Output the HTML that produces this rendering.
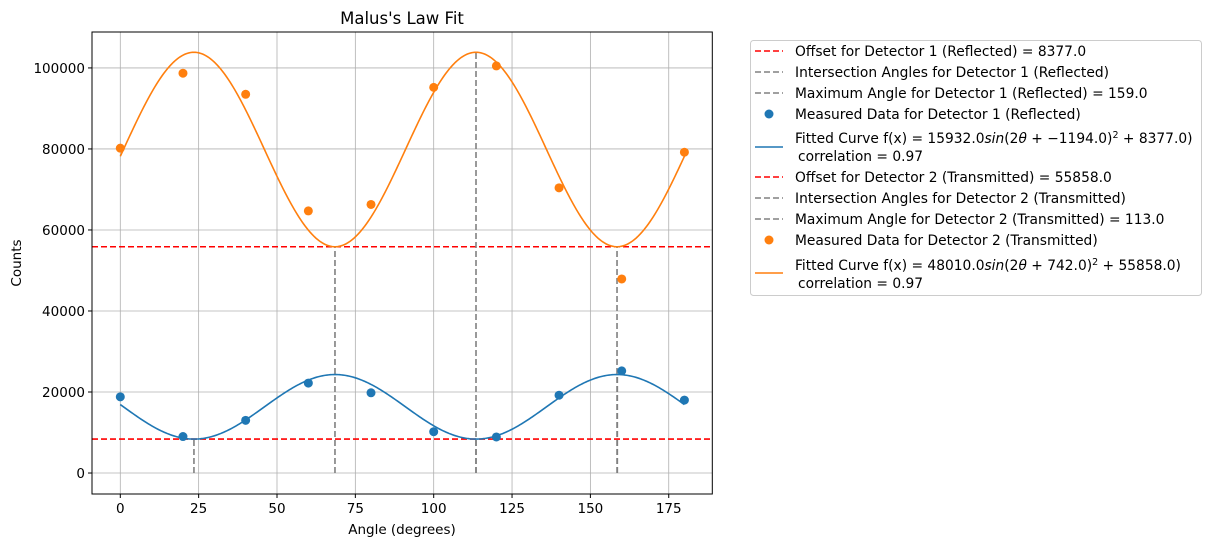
<!DOCTYPE html>
<html><head><meta charset="utf-8"><style>
body{margin:0;background:#fff;}
svg{display:block;font-family:"DejaVu Sans","Liberation Sans",sans-serif;}
</style></head><body>
<svg id="chart" width="1210" height="547" viewBox="0 0 1210 547" xmlns="http://www.w3.org/2000/svg">
<rect width="1210" height="547" fill="#fff"/>
<g id="grid"></g>
<g id="marks"></g>
<rect x="92" y="32" width="620.3" height="462" fill="none" stroke="#000" stroke-width="1"/>
<g id="ticks" font-size="13.5" fill="#000"></g>
<text x="402" y="24" font-size="16.5" text-anchor="middle">Malus's Law Fit</text>
<text x="402" y="534" font-size="13.5" text-anchor="middle">Angle (degrees)</text>
<text transform="translate(21,263) rotate(-90)" font-size="13.5" text-anchor="middle">Counts</text>
<g font-size="13.8">
<rect x="750.5" y="40.5" width="451" height="255" rx="3" fill="#fff" stroke="#ccc"/>
<g><line x1="755" y1="51" x2="783" y2="51" stroke="red" stroke-width="1.6" stroke-dasharray="6,3"/><text x="795" y="56">Offset for Detector 1 (Reflected) = 8377.0</text></g>
<g><line x1="755" y1="72" x2="783" y2="72" stroke="#808080" stroke-width="1.6" stroke-dasharray="6,3"/><text x="795" y="77">Intersection Angles for Detector 1 (Reflected)</text></g>
<g><line x1="755" y1="93" x2="783" y2="93" stroke="#808080" stroke-width="1.6" stroke-dasharray="6,3"/><text x="795" y="98">Maximum Angle for Detector 1 (Reflected) = 159.0</text></g>
<g><circle cx="769" cy="114" r="4.5" fill="#1f77b4"/><text x="795" y="119">Measured Data for Detector 1 (Reflected)</text></g>
<g><line x1="755" y1="147" x2="783" y2="147" stroke="#1f77b4" stroke-width="1.6"/><text x="795" y="143">Fitted Curve f(x) = 15932.0<tspan font-style="italic">sin</tspan>(2<tspan font-style="italic">θ</tspan> + −1194.0)<tspan font-size="9.5" dy="-5">2</tspan><tspan dy="5"> + 8377.0)</tspan></text><text x="798" y="161">correlation = 0.97</text></g>
<g><line x1="755" y1="177" x2="783" y2="177" stroke="red" stroke-width="1.6" stroke-dasharray="6,3"/><text x="795" y="182">Offset for Detector 2 (Transmitted) = 55858.0</text></g>
<g><line x1="755" y1="198" x2="783" y2="198" stroke="#808080" stroke-width="1.6" stroke-dasharray="6,3"/><text x="795" y="203">Intersection Angles for Detector 2 (Transmitted)</text></g>
<g><line x1="755" y1="219" x2="783" y2="219" stroke="#808080" stroke-width="1.6" stroke-dasharray="6,3"/><text x="795" y="224">Maximum Angle for Detector 2 (Transmitted) = 113.0</text></g>
<g><circle cx="769" cy="240" r="4.5" fill="#ff7f0e"/><text x="795" y="245">Measured Data for Detector 2 (Transmitted)</text></g>
<g><line x1="755" y1="273" x2="783" y2="273" stroke="#ff7f0e" stroke-width="1.6"/><text x="795" y="270">Fitted Curve f(x) = 48010.0<tspan font-style="italic">sin</tspan>(2<tspan font-style="italic">θ</tspan> + 742.0)<tspan font-size="9.5" dy="-5">2</tspan><tspan dy="5"> + 55858.0)</tspan></text><text x="798" y="288">correlation = 0.97</text></g>
</g>
</svg>
<script>
const angles = [0,20,40,60,80,100,120,140,160,180];
const reflected = [18800,9000,13000,22200,19800,10200,8900,19200,25200,18000];
const transmitted = [80200,98700,93500,64700,66300,95200,100500,70400,47900,79200];
const xTicks = [0,25,50,75,100,125,150,175];
const yTicks = [0,20000,40000,60000,80000,100000];
const fit1 = [15932, 8377, 23.5];   // amplitude, offset, min angle
const fit2 = [48010, 55858, 68.5];
const intersect1 = [23.5,113.5];
const intersect2 = [68.5,158.5];
const maxAngle1 = [158.6];
const maxAngle2 = [113.5];

const NS="http://www.w3.org/2000/svg";
const X0=92,X1=712.3,Y0=494,Y1=32,xmin=-9.03,xmax=188.9,ymin=-5180,ymax=108870;
const sx=v=>X0+(v-xmin)/(xmax-xmin)*(X1-X0);
const sy=v=>Y0-(v-ymin)/(ymax-ymin)*(Y0-Y1);
function mk(tag,attrs,parent){const e=document.createElementNS(NS,tag);for(const k in attrs)e.setAttribute(k,attrs[k]);parent.appendChild(e);return e;}
const grid=document.getElementById('grid'),marks=document.getElementById('marks'),ticks=document.getElementById('ticks');
xTicks.forEach(t=>{
  const l=mk('line',{x1:sx(t),x2:sx(t),y1:Y1,y2:Y0,stroke:'#b0b0b0','stroke-width':0.8},grid);
  
  
  mk('line',{x1:sx(t),x2:sx(t),y1:Y0,y2:Y0+4,stroke:'#000'},ticks);
  const tx=mk('text',{x:sx(t),y:Y0+19,'text-anchor':'middle'},ticks);tx.textContent=t;
  
  
});
yTicks.forEach(t=>{
  const l=mk('line',{x1:X0,x2:X1,y1:sy(t),y2:sy(t),stroke:'#b0b0b0','stroke-width':0.8},grid);
  
  
  mk('line',{x1:X0-4,x2:X0,y1:sy(t),y2:sy(t),stroke:'#000'},ticks);
  const tx=mk('text',{x:X0-7,y:sy(t)+5,'text-anchor':'end'},ticks);tx.textContent=t;
  
  
});
function hline(v,name){const l=mk('line',{x1:X0,x2:X1,y1:sy(v),y2:sy(v),stroke:'red','stroke-width':1.6,'stroke-dasharray':'6,3'},marks);
  
  }
function vline(a,top,name){const l=mk('line',{x1:sx(a),x2:sx(a),y1:sy(0),y2:sy(top),stroke:'#808080','stroke-width':1.6,'stroke-dasharray':'6,3'},marks);
  
  }
hline(fit1[1],'offset-line-detector-1');
hline(fit2[1],'offset-line-detector-2');
const f=(p,a)=>{const s=Math.sin(2*(a-p[2])*Math.PI/180);return p[1]+p[0]*s*s;};
intersect1.forEach(a=>vline(a,fit1[1],'intersection-line-detector-1'));
maxAngle1.forEach(a=>vline(a,f(fit1,a),'max-angle-line-detector-1'));
intersect2.forEach(a=>vline(a,fit2[1],'intersection-line-detector-2'));
maxAngle2.forEach(a=>vline(a,f(fit2,a),'max-angle-line-detector-2'));
function curve(p,color,name){let d='';for(let a=0;a<=180;a+=0.5){d+=(a?'L':'M')+sx(a).toFixed(2)+','+sy(f(p,a)).toFixed(2);}
  const c=mk('path',{d:d,fill:'none',stroke:color,'stroke-width':1.6},marks);
  
  }
curve(fit1,'#1f77b4','fit-curve-detector-1');
curve(fit2,'#ff7f0e','fit-curve-detector-2');
angles.forEach((a,i)=>{
  const c1=mk('circle',{cx:sx(a),cy:sy(reflected[i]),r:4.5,fill:'#1f77b4'},marks);
  
  
  const c2=mk('circle',{cx:sx(a),cy:sy(transmitted[i]),r:4.5,fill:'#ff7f0e'},marks);
  
  
});
</script>
</body></html>
